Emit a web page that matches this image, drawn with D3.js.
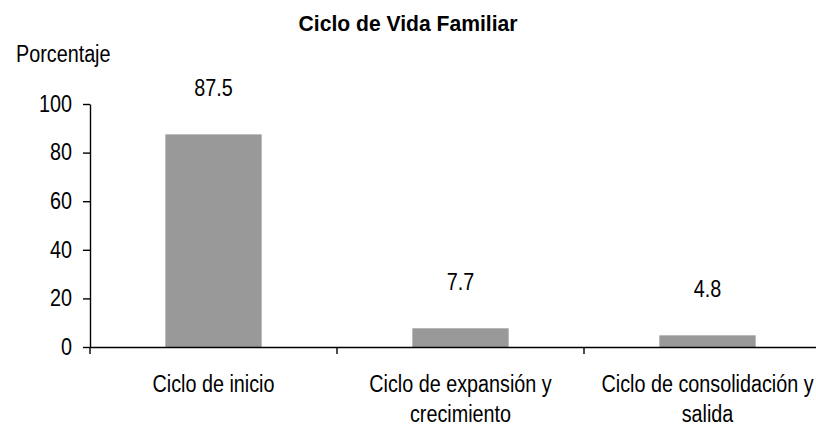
<!DOCTYPE html>
<html>
<head>
<meta charset="utf-8">
<script src="https://cdn.jsdelivr.net/npm/d3@7"></script>
<style>
body{margin:0;background:#fff}
text{font-family:"Liberation Sans",Arial,sans-serif;fill:#000}
</style>
</head>
<body>
<svg id="chart" width="816" height="430"></svg>
<script>
var categories = ["Ciclo de inicio", "Ciclo de expansión y crecimiento", "Ciclo de consolidación y salida"];
var values = [87.5, 7.7, 4.8];
var yTicks = [0, 20, 40, 60, 80, 100];
var title = "Ciclo de Vida Familiar";
var yLabel = "Porcentaje";

var svg = d3.select("#chart");
var sx = 0.86; // text looks narrow / tall in the original
var fontSize = 23;

// scales
var x = d3.scaleBand()
    .domain(categories)
    .range([90, 831])
    .paddingInner(0.61)
    .paddingOuter(0.305);
var y = d3.scaleLinear()
    .domain([0, 100])
    .range([347, 104]);

// bars
svg.selectAll(".bar")
    .data(values)
    .enter().append("rect")
    .attr("class", "bar")
    .attr("x", function(d, i){ return x(categories[i]); })
    .attr("y", function(d){ return y(d); })
    .attr("width", x.bandwidth())
    .attr("height", function(d){ return y(0) - y(d); })
    .attr("fill", "#999999");

// y axis
var yAxis = svg.append("g")
    .attr("transform", "translate(" + x.range()[0] + ",0)")
    .call(d3.axisLeft(y).tickValues(yTicks).tickSize(7).tickSizeOuter(0));
yAxis.selectAll("path, line").attr("stroke", "#000").attr("stroke-width", 1.4);
yAxis.selectAll("text")
    .attr("x", 0)
    .attr("transform", "translate(-18,0) scale(" + sx + ",1)")
    .style("font-size", fontSize + "px")
    .style("font-family", "'Liberation Sans', Arial, sans-serif");

// x axis (line only, labels drawn below)
var xAxis = svg.append("g")
    .attr("transform", "translate(0," + y(0) + ")")
    .call(d3.axisBottom(x).tickSize(0).tickSizeOuter(0).tickFormat(""));
xAxis.select(".domain").attr("stroke", "#000").attr("stroke-width", 1.4);

// ticks between categories
var bounds = categories.map(function(c){ return x(c) - x.step() * x.paddingOuter(); });
bounds.push(x.range()[1]);
xAxis.selectAll(".bound")
    .data(bounds)
    .enter().append("line")
    .attr("class", "bound")
    .attr("x1", function(d){ return d; })
    .attr("x2", function(d){ return d; })
    .attr("y1", 0)
    .attr("y2", 7)
    .attr("stroke", "#000")
    .attr("stroke-width", 1.4);

// category labels, wrapped to the band step
function wrapWords(str, maxW){
    var probe = svg.append("text").style("font-size", fontSize + "px");
    var words = str.split(" "), lines = [], line = [];
    words.forEach(function(w){
        var test = line.concat([w]).join(" ");
        probe.text(test);
        if (line.length && probe.node().getComputedTextLength() * sx > maxW) {
            lines.push(line.join(" "));
            line = [w];
        } else {
            line.push(w);
        }
    });
    lines.push(line.join(" "));
    probe.remove();
    return lines;
}

categories.forEach(function(c){
    var cx = x(c) + x.bandwidth() / 2;
    var t = svg.append("text")
        .attr("transform", "translate(" + cx + "," + (y(0) + 45) + ") scale(" + sx + ",1)")
        .attr("text-anchor", "middle")
        .style("font-size", fontSize + "px");
    wrapWords(c, x.step() - 8).forEach(function(l, i){
        t.append("tspan").attr("x", 0).attr("y", i * 30).text(l);
    });
});

// value labels
svg.selectAll(".val")
    .data(values)
    .enter().append("text")
    .attr("class", "val")
    .attr("transform", function(d, i){
        return "translate(" + (x(categories[i]) + x.bandwidth() / 2) + "," + (y(d) - 38) + ") scale(" + sx + ",1)";
    })
    .attr("text-anchor", "middle")
    .style("font-size", fontSize + "px")
    .text(function(d){ return d.toFixed(1); });

// title
svg.append("text")
    .attr("transform", "translate(408,31) scale(0.96,1)")
    .attr("text-anchor", "middle")
    .style("font-size", "22px")
    .style("font-weight", "bold")
    .text(title);

// y label
svg.append("text")
    .attr("transform", "translate(16,62) scale(" + sx + ",1)")
    .style("font-size", fontSize + "px")
    .text(yLabel);
</script>
</body>
</html>
